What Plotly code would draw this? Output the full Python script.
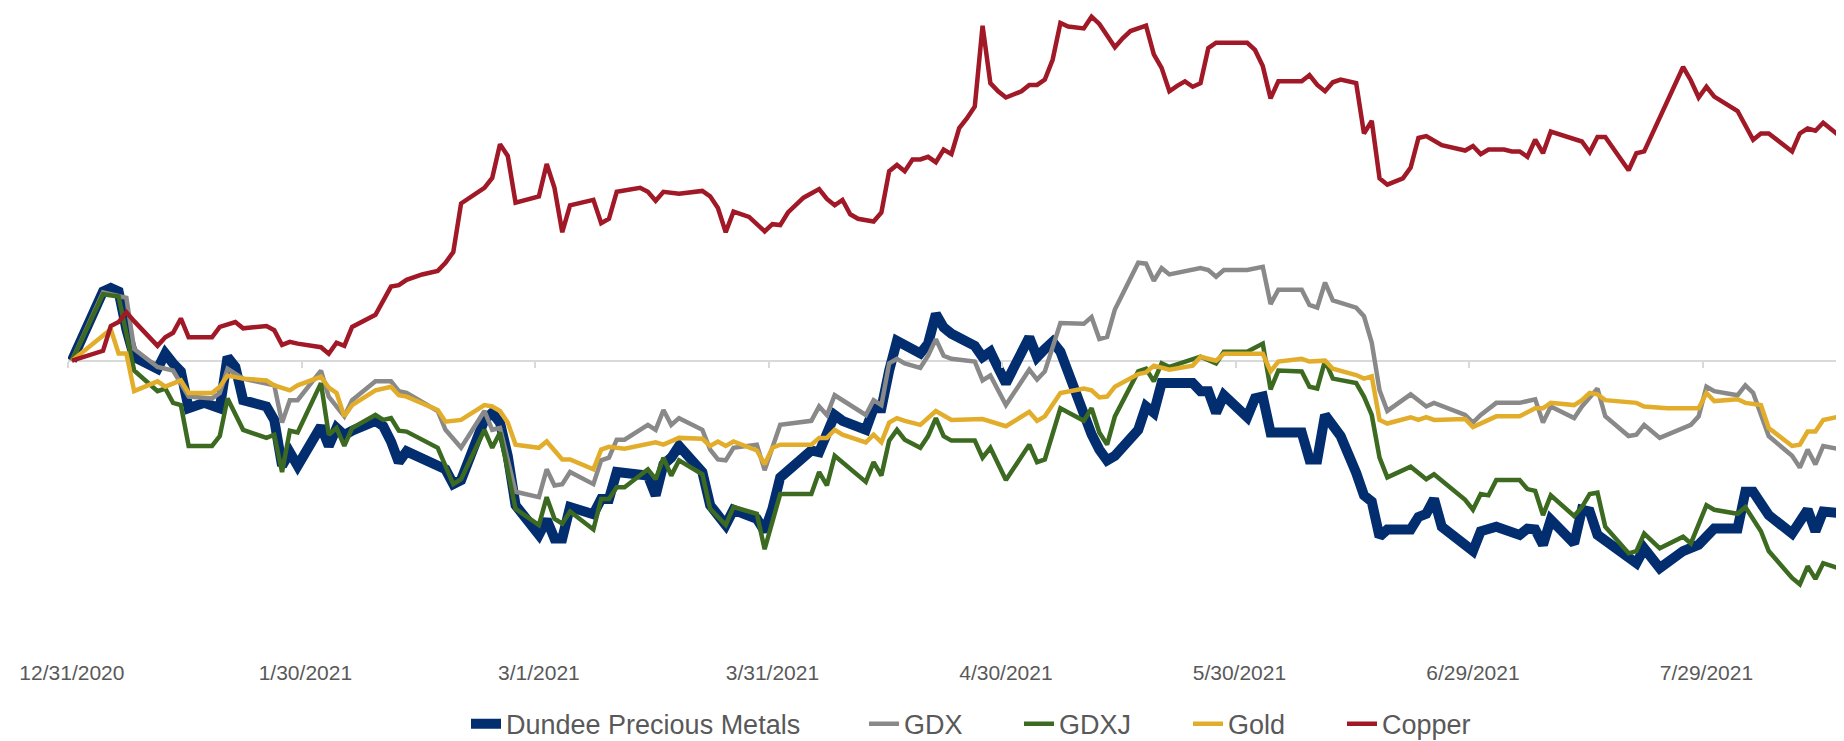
import pandas as pd
import plotly.graph_objects as go

# Cumulative return (%) since 12/31/2020; x given as calendar days after 12/31/2020
BASE_DATE = "2020-12-31"

DPM_DAY = [0, 4, 5, 6, 7, 8, 11, 12, 13, 14, 15, 17, 19, 20, 21, 22, 25, 26, 27, 28, 29, 32, 33, 34, 35, 36,
           39, 40, 41, 42, 43, 48, 49, 50, 53, 54, 55, 56, 57, 60, 61, 62, 63, 64, 67, 68, 69, 70, 74, 75,
           76, 77, 78, 81, 82, 83, 84, 85, 88, 89, 90, 91, 95, 96, 98, 99, 102, 103, 104, 105, 106, 109,
           110, 111, 112, 113, 116, 117, 118, 119, 120, 123, 124, 125, 126, 127, 130, 131, 132, 133, 134,
           137, 138, 139, 140, 144, 145, 146, 147, 148, 151, 152, 153, 154, 158, 159, 160, 161, 163, 164,
           165, 166, 167, 168, 169, 172, 173, 174, 175, 176, 180, 181, 183, 186, 187, 188, 189, 190, 193,
           194, 195, 196, 201, 202, 204, 207, 209, 211, 214, 215, 216, 218, 221, 223, 224, 225, 228, 229]
DPM_RET = [0, 7.7, 8.1, 7.7, 3.5, 0.4, -0.9, 0.8, -0.3, -1.2, -5.3, -4.7, -5.3, 0.4, -0.7, -4.4, -5.1, -6.6,
           -11.7, -10.2, -11.7, -7.3, -9.5, -7.5, -8.3, -7.8, -6.7, -7.3, -9.0, -11.3, -10.1, -12.1, -13.75,
           -13.3, -6.6, -5.8, -6.9, -10.6, -16.1, -19.4, -17.7, -19.8, -19.8, -16.3, -17.1, -15.4, -15.4,
           -12.4, -12.8, -15.0, -11.55, -10.8, -9.5, -12.4, -16.1, -17.2, -18.3, -16.6, -17.6, -19.0, -16.5,
           -13.0, -10.0, -10.2, -6.05, -6.7, -7.7, -5.3, -5.3, -1.1, 2.2, 0.8, 1.9, 5.2, 3.7, 3.0, 1.65,
           0.4, 1.0, -0.8, -2.5, 2.6, 0.4, 1.3, 2.1, 1.0, -6.2, -8.2, -9.9, -11.1, -10.6, -7.7, -5.1, -5.8,
           -2.5, -2.5, -3.4, -3.4, -5.8, -3.85, -6.3, -4.2, -4.0, -8.0, -8.0, -11.0, -11.0, -6.05, -8.4,
           -10.2, -12.5, -15.0, -15.7, -19.6, -18.8, -18.8, -17.4, -17.05, -15.4, -18.5, -21.2, -19.0,
           -18.5, -19.4, -18.7, -18.8, -20.5, -17.7, -20.35, -16.6, -16.8, -19.4, -22.55, -20.9, -23.1,
           -21.2, -20.5, -18.7, -18.7, -14.6, -14.6, -17.2, -19.25, -16.6, -19.0, -16.8, -17.05, -19.4]

GDX_DAY = [0, 4, 7, 8, 11, 13, 15, 18, 19, 20, 22, 26, 27, 28, 29, 32, 33, 35, 36, 39, 41, 42, 43, 47, 48,
           50, 53, 54, 55, 56, 57, 60, 61, 62, 63, 64, 67, 68, 69, 70, 71, 74, 75, 76, 77, 78, 81, 82, 83,
           84, 85, 88, 89, 91, 95, 96, 97, 98, 102, 103, 104, 105, 106, 107, 109, 110, 111, 112, 113, 116,
           117, 118, 120, 123, 124, 125, 127, 130, 131, 132, 133, 134, 137, 138, 139, 140, 141, 145, 146,
           147, 148, 151, 153, 154, 155, 158, 159, 160, 161, 162, 165, 166, 167, 168, 169, 172, 174, 175,
           179, 180, 181, 183, 186, 188, 189, 190, 193, 194, 196, 197, 200, 201, 202, 204, 208, 209, 210,
           211, 214, 215, 216, 218, 221, 222, 223, 224, 225, 228, 229]
GDX_RET = [0, 7.6, 7.0, 1.3, -0.7, -1.1, -4.0, -4.2, -3.6, -0.9, -2.0, -2.75, -6.9, -4.4, -4.4, -1.1, -4.0,
           -6.2, -4.4, -2.3, -2.3, -3.4, -3.6, -5.6, -7.7, -9.7, -5.6, -7.7, -7.5, -11.0, -14.6, -15.2,
           -12.1, -13.9, -13.75, -12.4, -13.75, -11.1, -10.8, -8.8, -8.8, -7.15, -7.7, -5.5, -7.15, -6.4,
           -7.7, -9.9, -11.0, -11.1, -9.7, -9.35, -12.2, -7.15, -6.7, -5.1, -6.05, -3.85, -6.05, -4.4,
           -4.95, -0.3, 0.2, -0.3, -0.8, 0.55, 2.4, 0.55, 0.2, -0.1, -2.2, -1.65, -4.95, -1.0, -2.1, -1.2,
           4.2, 4.1, 4.85, 2.4, 2.65, 5.7, 10.9, 10.8, 8.9, 10.3, 9.6, 10.3, 10.1, 9.35, 10.1, 10.1,
           10.45, 6.3, 7.9, 7.9, 6.2, 5.9, 8.7, 6.7, 5.9, 4.95, 2.0, -3.3, -5.6, -3.75, -5.1, -4.7, -6.05,
           -6.9, -6.05, -4.7, -4.7, -4.3, -6.9, -5.1, -6.4, -5.1, -3.1, -6.2, -8.4, -8.25, -7.15, -8.6,
           -7.15, -6.2, -2.9, -3.4, -3.85, -2.75, -3.6, -8.4, -10.6, -11.9, -9.9, -11.55, -9.5, -10.0, -11.1]

GDXJ_DAY = [0, 4, 6, 8, 11, 12, 13, 14, 15, 18, 19, 20, 22, 25, 26, 27, 28, 29, 32, 33, 34, 35, 36, 39, 40,
            41, 42, 43, 47, 49, 50, 53, 54, 55, 57, 60, 61, 62, 63, 64, 67, 68, 69, 70, 71, 74, 75, 76, 77,
            78, 81, 82, 84, 85, 88, 89, 91, 95, 96, 97, 98, 102, 103, 104, 105, 106, 107, 109, 110, 111,
            112, 113, 116, 117, 118, 120, 123, 124, 125, 127, 130, 131, 132, 133, 134, 137, 138, 139, 140,
            141, 145, 146, 147, 148, 151, 153, 154, 155, 158, 159, 160, 161, 162, 165, 166, 167, 168, 169,
            172, 174, 175, 179, 180, 181, 182, 183, 186, 187, 188, 189, 190, 193, 194, 195, 196, 197, 200,
            201, 202, 204, 207, 208, 210, 211, 214, 215, 217, 218, 221, 222, 223, 224, 225, 228, 229]
GDXJ_RET = [0, 7.4, 7.15, -1.1, -3.4, -3.1, -4.7, -4.95, -9.5, -9.5, -8.4, -4.2, -7.7, -8.6, -8.25, -12.4,
            -7.8, -8.0, -2.5, -8.25, -7.5, -9.5, -7.5, -6.05, -6.6, -6.4, -7.8, -7.9, -9.7, -13.75, -13.2,
            -7.7, -9.7, -8.0, -16.5, -18.3, -15.2, -17.6, -18.15, -16.8, -18.8, -15.4, -15.4, -14.1, -14.1,
            -12.1, -13.2, -10.8, -12.8, -11.1, -12.65, -16.5, -18.3, -16.3, -17.05, -21.0, -14.85, -14.85,
            -12.4, -13.9, -10.6, -13.5, -11.3, -12.8, -8.9, -7.7, -8.8, -9.7, -8.4, -6.4, -8.4, -8.9, -8.9,
            -10.8, -9.7, -13.3, -9.35, -11.3, -11.0, -5.3, -6.7, -5.3, -8.0, -9.35, -6.2, -1.2, -0.9, -2.3,
            -0.3, -0.7, 0.44, 0.0, -0.3, 1.0, 1.0, 1.9, -3.2, -1.1, -1.2, -2.9, -3.1, 0.0, -2.0, -2.5,
            -4.0, -6.05, -10.8, -13.0, -11.8, -13.2, -12.65, -15.5, -16.6, -14.85, -15.0, -13.3, -13.3,
            -14.3, -14.5, -17.2, -15.0, -17.3, -16.3, -14.85, -14.7, -18.5, -21.45, -21.2, -19.25, -20.9,
            -19.6, -20.35, -16.1, -16.6, -17.05, -16.3, -19.0, -21.2, -24.2, -24.9, -22.9, -24.3, -22.55,
            -23.4, -24.9]

GOLD_DAY = [0, 5, 6, 7, 8, 11, 12, 14, 15, 18, 19, 20, 22, 25, 26, 28, 29, 32, 33, 34, 35, 36, 39, 41, 42,
            43, 47, 48, 50, 53, 54, 55, 56, 57, 60, 61, 63, 64, 67, 68, 69, 71, 75, 76, 78, 81, 82, 83, 84,
            85, 88, 89, 90, 91, 95, 96, 97, 98, 99, 102, 103, 104, 105, 106, 107, 109, 111, 113, 117, 120,
            123, 124, 125, 127, 130, 131, 132, 133, 134, 137, 138, 139, 141, 144, 145, 147, 148, 153, 154,
            155, 158, 159, 161, 162, 165, 166, 167, 168, 169, 172, 173, 174, 175, 179, 180, 183, 186, 188,
            189, 190, 193, 194, 195, 196, 197, 200, 201, 202, 205, 209, 210, 211, 214, 215, 217, 218, 221,
            222, 223, 224, 225, 228, 229]
GOLD_RET = [0, 3.5, 0.8, 0.8, -3.4, -2.3, -2.9, -2.2, -3.6, -3.6, -2.9, -1.65, -2.0, -2.2, -2.75, -3.3,
            -2.75, -1.8, -3.0, -3.6, -6.2, -4.95, -3.3, -2.9, -3.85, -4.0, -5.5, -6.8, -6.6, -4.95, -5.1,
            -5.6, -6.9, -9.35, -9.7, -9.0, -11.0, -11.0, -12.1, -9.9, -9.6, -9.8, -9.1, -9.35, -8.6, -8.7,
            -9.5, -9.0, -9.5, -9.0, -10.0, -11.55, -9.7, -9.35, -9.35, -8.6, -8.6, -7.7, -8.25, -9.1, -8.25,
            -9.1, -6.9, -6.4, -6.7, -7.15, -5.6, -6.6, -6.5, -7.3, -5.7, -6.7, -6.2, -3.6, -3.1, -3.3, -4.1,
            -4.0, -2.9, -1.5, -1.3, -0.55, -1.0, -0.55, 0.44, 0.0, 0.77, 0.77, -1.2, -0.1, 0.2, -0.1, 0.0,
            -0.9, -1.6, -2.0, -1.75, -6.6, -7.0, -6.3, -6.6, -6.3, -6.6, -6.5, -7.4, -6.2, -6.2, -5.3,
            -5.3, -4.7, -4.95, -4.4, -3.6, -3.75, -4.4, -4.7, -4.7, -5.1, -5.3, -5.3, -3.6, -4.5, -4.3,
            -4.7, -4.95, -7.5, -9.5, -9.35, -7.9, -7.9, -6.6, -6.05, -6.05]

COPPER_DAY = [0, 4, 5, 6, 7, 8, 11, 12, 13, 14, 15, 18, 19, 21, 22, 25, 26, 27, 28, 29, 32, 33, 34, 35, 36,
              39, 41, 42, 43, 45, 47, 48, 49, 50, 53, 54, 55, 56, 57, 60, 61, 62, 63, 64, 67, 68, 69, 70,
              73, 74, 75, 76, 78, 81, 82, 83, 84, 85, 87, 88, 89, 90, 91, 92, 94, 96, 97, 98, 99, 100, 101,
              103, 104, 105, 106, 107, 108, 109, 110, 111, 112, 113, 114, 115, 116, 117, 118, 119, 120, 122,
              123, 124, 125, 126, 127, 128, 130, 131, 132, 133, 134, 135, 136, 138, 139, 140, 141, 142, 143,
              144, 145, 146, 147, 151, 152, 153, 154, 155, 158, 159, 160, 161, 162, 163, 165, 166, 167, 168,
              169, 171, 172, 173, 174, 176, 178, 179, 180, 181, 182, 184, 185, 186, 187, 188, 189, 190, 194,
              195, 196, 197, 200, 201, 202, 207, 208, 209, 210, 211, 214, 216, 217, 218, 221, 222, 223, 224,
              225, 228, 229]
COPPER_RET = [0, 1.1, 3.85, 4.3, 5.4, 4.4, 1.65, 2.6, 3.1, 4.7, 2.6, 2.6, 3.75, 4.3, 3.6, 3.85, 3.4, 1.75,
              2.1, 1.9, 1.5, 0.77, 2.0, 1.65, 3.75, 5.1, 8.25, 8.4, 9.0, 9.6, 10.0, 10.9, 12.1, 17.5, 19.25,
              20.35, 24.1, 22.8, 17.6, 18.3, 21.9, 19.25, 14.3, 17.3, 17.9, 15.3, 15.8, 18.8, 19.25, 18.8,
              17.8, 18.8, 18.6, 18.9, 18.3, 17.0, 14.3, 16.6, 16.0, 15.2, 14.4, 15.2, 15.1, 16.5, 18.15,
              19.1, 18.0, 17.3, 17.9, 16.3, 15.8, 15.5, 16.5, 21.1, 21.8, 21.1, 22.4, 22.4, 22.7, 22.1,
              23.5, 23.0, 25.9, 27.0, 28.3, 37.3, 30.9, 30.0, 29.3, 30.0, 30.7, 30.7, 31.3, 33.5, 37.6,
              37.2, 37.0, 38.3, 37.5, 36.2, 34.9, 35.9, 36.7, 37.3, 34.1, 32.6, 30.0, 30.6, 31.1, 30.5,
              30.9, 34.8, 35.4, 35.4, 34.6, 32.8, 29.2, 31.1, 31.1, 31.8, 30.7, 30.0, 31.0, 31.3, 30.9,
              25.3, 26.7, 20.3, 19.6, 20.3, 21.5, 24.8, 25.0, 24.0, 23.6, 23.4, 23.9, 23.0, 23.5, 23.5,
              23.3, 23.3, 22.7, 24.6, 23.1, 25.5, 24.4, 23.2, 24.9, 24.9, 21.2, 23.1, 23.3, 32.7, 31.2,
              29.3, 30.5, 29.4, 27.8, 24.6, 25.3, 25.3, 23.3, 25.3, 25.85, 25.6, 26.5, 24.4, 21.0]

TICK_DATES = ["2020-12-31", "2021-01-30", "2021-03-01", "2021-03-31",
              "2021-04-30", "2021-05-30", "2021-06-29", "2021-07-29"]
TICK_TEXT = ["12/31/2020", "1/30/2021", "3/1/2021", "3/31/2021",
             "4/30/2021", "5/30/2021", "6/29/2021", "7/29/2021"]

SERIES_NAMES = ["Dundee Precious Metals", "GDX", "GDXJ", "Gold", "Copper"]
SERIES_DAYS = [DPM_DAY, GDX_DAY, GDXJ_DAY, GOLD_DAY, COPPER_DAY]
SERIES_RETS = [DPM_RET, GDX_RET, GDXJ_RET, GOLD_RET, COPPER_RET]

# ---- styling ----
COLORS = ["#022E6F", "#898989", "#3C6A21", "#E2AD2A", "#A11826"]
WIDTHS = [10, 4.5, 4.5, 4.5, 4.5]
LEGEND_IDS = ["legend", "legend2", "legend3", "legend4", "legend5"]
LEGEND_TEXT_PX = [498, 896, 1051, 1220, 1374]   # pixel x where each legend label starts

base = pd.Timestamp(BASE_DATE)
half_day = pd.Timedelta(hours=12)   # points sit in the middle of their day


def to_dates(days):
    return base + pd.to_timedelta(days, unit="D") + half_day


fig = go.Figure()
for name, days, vals, color, width, lg in zip(SERIES_NAMES, SERIES_DAYS, SERIES_RETS,
                                                COLORS, WIDTHS, LEGEND_IDS):
    fig.add_trace(go.Scatter(
        x=to_dates(days), y=vals, name=name, mode="lines",
        line=dict(color=color, width=width), legend=lg,
    ))

W, H = 1844, 741
ML, MR, MT, MB = 60, 0, 0, 83
PLOT_W = W - ML - MR
PLOT_H = H - MT - MB
Y_MIN, Y_MAX = -33.11, 39.27
X_START = base
X_END = base + pd.Timedelta(days=229.2)
label_pos = [pd.Timestamp(d) + half_day for d in TICK_DATES]
tick_pos = [pd.Timestamp(d) for d in TICK_DATES]
zero_frac = (0 - Y_MIN) / (Y_MAX - Y_MIN)
legend_y = -(725 - PLOT_H) / PLOT_H

font_family = "Liberation Sans, Arial, sans-serif"
legend_font = dict(family=font_family, size=27, color="#595959")

layout_legends = {}
for lg, px in zip(LEGEND_IDS, LEGEND_TEXT_PX):
    layout_legends[lg] = dict(
        orientation="h", x=(px - 40 - ML) / PLOT_W, xanchor="left",
        y=legend_y, yanchor="middle", font=legend_font,
        bgcolor="rgba(0,0,0,0)", borderwidth=0, itemwidth=30,
    )

fig.update_layout(
    width=W, height=H,
    margin=dict(l=ML, r=MR, t=MT, b=MB),
    paper_bgcolor="white", plot_bgcolor="white",
    showlegend=True,
    xaxis=dict(range=[X_START, X_END], tickmode="array", tickvals=label_pos, ticktext=TICK_TEXT,
               showgrid=False, showline=False, zeroline=False, ticks="",
               tickfont=dict(family=font_family, size=21, color="#595959")),
    xaxis2=dict(range=[X_START, X_END], overlaying="x", anchor="free", position=zero_frac,
                tickmode="array", tickvals=tick_pos, ticks="outside", ticklen=6, tickwidth=1.5,
                tickcolor="#D9D9D9", showticklabels=False, showgrid=False, showline=False,
                zeroline=False, side="bottom"),
    yaxis=dict(range=[Y_MIN, Y_MAX], showgrid=False, showticklabels=False, ticks="",
               zeroline=True, zerolinecolor="#D9D9D9", zerolinewidth=2, showline=False),
    **layout_legends,
)
# invisible helper so the baseline tick axis is drawn
fig.add_trace(go.Scatter(x=[X_START], y=[None], xaxis="x2", showlegend=False, hoverinfo="skip"))

fig.write_html("out.html")
